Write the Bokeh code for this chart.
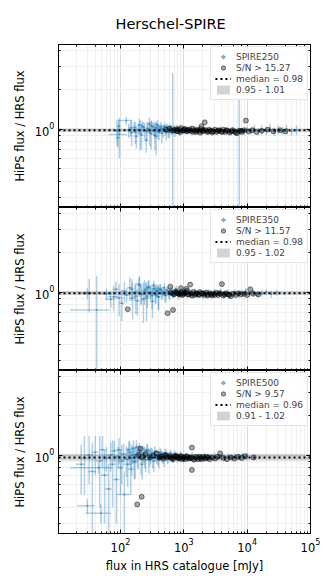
import numpy as np
from bokeh.plotting import figure
from bokeh.layouts import column
from bokeh.models import (LogAxis, FixedTicker, Legend, LegendItem,
                          Range1d, ColumnDataSource, Title)
from bokeh.embed import file_html
from bokeh.resources import INLINE

# ---------------- data ----------------
bands = ["SPIRE250", "SPIRE350", "SPIRE500"]
sn_threshold = [15.27, 11.57, 9.57]
median_ratio = [0.98, 0.98, 0.96]
range_lo = [0.95, 0.95, 0.91]
range_hi = [1.01, 1.02, 1.02]

flux250 = [96,123,88,91,94,135,150,165,178,190,205,220,240,255,270,290,310,330,350,370,390,410,430,450,480,510,540,570,600,667,640,700,750,800,860,920,1000,1100,1200,1350,1500,1700,1900,2100,2400,2700,3000,3400,3800,4300,4800,5400,6000,6800,7480,8200,9000,10000,11500,13000,15000,17000,20000,23000,27000,31000,36000,42000,50000,60000,
           145,172,198,215,232,262,285,305,325,345,365,385,405,440,470,500,530,560,590,620,680,720,780,850,950,1050,1150,1300,1600,2000]
ratio250 = [0.91,1.16,0.97,0.86,1.05,0.98,0.94,1.03,0.88,0.99,0.93,1.05,0.97,0.82,1.01,0.94,1.06,0.97,0.90,1.02,0.96,0.99,1.04,0.93,1.00,0.97,1.03,0.95,1.01,0.99,0.96,1.02,0.97,1.00,0.95,0.99,1.02,0.97,0.99,0.96,1.01,0.98,0.95,1.00,0.97,0.99,0.96,0.98,1.00,0.96,0.98,0.95,0.99,0.97,0.97,0.98,0.96,0.99,0.97,1.01,0.96,0.99,0.97,1.02,0.96,0.99,0.97,1.00,0.96,0.98,
            1.02,0.95,1.08,0.90,1.03,0.97,1.10,0.92,1.04,0.98,0.88,1.07,0.95,1.01,0.97,1.05,0.94,1.00,0.96,1.03,0.98,0.95,1.02,0.97,1.00,0.96,0.99,1.01,0.97,0.99]
fluxerr250 = [31,30,6,7,6,10,11,12,13,14,15,16,17,18,19,20,21,22,23,24,25,26,27,28,29,30,31,32,33,36,34,36,38,40,42,44,46,48,50,55,60,65,70,75,80,90,100,110,120,140,150,170,190,210,230,260,280,310,350,400,460,520,600,700,820,950,1100,1300,1500,1800,
              10,12,14,15,16,18,19,20,21,22,23,24,25,27,28,30,31,32,33,34,36,37,39,42,46,48,50,55,65,75]
ratioerr250 = [0.31,0.08,0.22,0.14,0.12,0.12,0.20,0.10,0.17,0.09,0.24,0.10,0.14,0.16,0.09,0.20,0.11,0.08,0.21,0.10,0.13,0.07,0.09,0.15,0.06,0.08,0.07,0.10,0.06,1.69,0.06,0.05,0.06,0.05,0.07,0.05,0.05,0.04,0.05,0.04,0.05,0.04,0.06,0.04,0.05,0.04,0.05,0.04,0.05,0.04,0.05,0.04,0.05,0.04,0.75,0.05,0.06,0.05,0.06,0.07,0.06,0.08,0.07,0.08,0.07,0.08,0.07,0.08,0.07,0.08,
               0.15,0.18,0.12,0.20,0.10,0.16,0.12,0.22,0.09,0.14,0.25,0.10,0.13,0.08,0.11,0.07,0.12,0.08,0.10,0.06,0.07,0.08,0.06,0.06,0.05,0.05,0.05,0.04,0.05,0.04]
snflux250 = [520,600,650,700,760,800,850,900,950,1000,1060,1120,1200,1280,1350,1450,1550,1650,1750,1850,1900,2000,2140,2200,2350,2500,2700,2900,3100,3300,3600,3900,4200,4500,4900,5300,5800,6300,6900,7500,8200,9000,9560,10500,12000,14000,17000,21000,26000,33000,40000,
             780,880,1030,1150,1380,1600,1800,2050,2450,2800,3450,4000,4700,5600,6600,8000]
snratio250 = [0.99,1.01,0.97,0.98,1.00,0.96,0.99,1.02,0.97,0.98,1.00,0.96,0.99,0.97,1.01,0.98,0.95,0.99,0.97,1.00,1.05,0.96,1.125,0.98,0.95,0.99,0.97,0.96,0.99,0.95,0.98,0.96,0.99,0.95,0.97,0.94,0.98,0.96,0.93,0.97,0.95,0.98,1.16,0.96,0.98,0.95,0.97,0.99,0.96,0.98,0.96,
              0.97,0.95,0.99,0.97,0.95,0.97,0.94,0.98,0.96,0.94,0.97,0.95,0.98,0.96,0.94,0.97]

flux350 = [42,32,30,60,70,78,85,95,105,115,125,140,155,170,185,200,215,230,250,265,280,300,320,340,360,380,400,430,460,490,520,560,600,650,700,760,820,890,960,1050,1150,1250,1380,1500,1650,1800,2000,2200,2450,2700,3000,3400,3800,4300,4900,5600,6400,7300,8300,9500,11000,12500,14500,17000,20000,24000,29000,
           150,175,195,210,240,258,275,295,315,335,355,375,395,420,445,475,505,540,580,620,670,730,800,870,940,1020,1120,1300,1600,2100]
ratio350 = [0.73,0.98,0.98,0.97,0.88,0.92,1.05,0.90,0.82,1.02,0.95,1.08,0.90,1.00,0.86,1.12,0.96,0.88,1.05,0.93,1.10,0.98,0.85,1.06,0.95,1.02,0.92,1.04,0.97,1.08,0.94,1.01,0.96,1.03,0.98,1.05,0.95,1.00,0.97,1.02,0.96,0.99,0.95,1.01,0.97,0.99,0.95,0.98,1.00,0.96,0.99,0.97,1.01,0.96,0.99,0.97,1.00,0.96,0.99,1.02,0.97,0.99,0.96,0.98,1.00,0.97,0.99,
            1.05,0.93,1.15,0.97,1.02,0.90,1.08,1.00,0.94,1.12,0.97,1.03,0.92,1.06,0.98,1.01,0.95,1.04,0.97,1.00,0.96,1.02,0.98,0.95,1.01,0.97,0.99,0.96,0.98,0.97]
fluxerr350 = [26,4,6,10,12,15,10,12,10,12,14,14,15,16,17,18,19,20,21,22,23,24,25,26,27,28,29,30,31,32,33,34,35,36,38,40,42,44,46,48,52,56,60,65,70,75,80,90,100,110,120,130,150,170,190,210,240,270,300,340,390,440,500,580,680,800,950,
              14,16,17,18,20,21,22,23,24,25,26,27,28,29,30,31,32,33,34,35,36,38,40,42,44,46,50,56,65,80]
ratioerr350 = [0.60,0.28,0.10,0.10,0.12,0.20,0.15,0.25,0.22,0.18,0.12,0.22,0.28,0.14,0.20,0.20,0.15,0.30,0.12,0.18,0.13,0.10,0.22,0.11,0.14,0.09,0.20,0.10,0.08,0.09,0.12,0.07,0.09,0.07,0.06,0.07,0.08,0.06,0.07,0.06,0.05,0.06,0.05,0.06,0.05,0.05,0.06,0.05,0.05,0.05,0.06,0.05,0.05,0.05,0.06,0.05,0.05,0.06,0.05,0.06,0.05,0.06,0.05,0.06,0.05,0.06,0.05,
               0.20,0.25,0.15,0.18,0.22,0.30,0.14,0.12,0.20,0.10,0.15,0.12,0.18,0.09,0.11,0.08,0.10,0.07,0.08,0.06,0.07,0.06,0.06,0.05,0.06,0.05,0.05,0.05,0.05,0.05]
snflux350 = [130,555,675,612,1260,4000,11200,620,680,740,800,860,900,920,980,1050,1100,1120,1200,1300,1400,1500,1600,1700,1800,1950,2100,2250,2400,2600,2800,3000,3250,3500,3800,4200,4600,5000,5500,6000,6600,7300,8000,9000,10000,12500,15000,
             700,770,830,950,1020,1150,1350,1550,1750,2000,2350,2700,3100,3650,4400,5200]
snratio350 = [0.74,0.69,0.73,1.10,1.14,1.15,1.05,0.99,0.97,1.01,0.98,0.96,1.07,1.00,0.97,0.99,1.06,1.02,0.96,0.98,1.00,0.95,0.98,0.96,1.00,0.97,0.95,0.99,0.96,0.98,0.94,0.97,0.99,0.95,0.97,0.94,0.98,0.96,0.93,0.97,0.95,0.98,0.96,0.97,0.95,0.97,0.96,
              0.96,0.99,0.97,0.95,0.98,0.96,0.94,0.97,0.95,0.98,0.94,0.96,0.95,0.98,0.96,0.95]

flux500 = [45,24,27,30,32,36,40,49,47,52,56,60,65,70,75,80,86,92,100,115,124,135,145,155,165,178,190,205,220,235,250,270,290,310,335,360,390,420,450,490,530,570,620,680,740,810,890,980,1080,1200,1350,1500,1700,1900,2150,2400,2700,3050,3450,3900,4400,5000,5700,6500,7400,8500,9800,
           95,105,112,130,140,150,160,170,185,198,212,228,242,260,280,300,322,348,375,405,435,470,510,550,600,650,710,780,860,950]
ratio500 = [0.80,0.85,0.95,0.41,1.00,0.75,1.05,0.36,0.90,1.10,0.70,0.95,0.55,1.00,0.85,1.08,0.65,0.97,0.80,0.50,0.93,1.10,0.78,1.00,0.88,1.15,0.95,1.05,0.85,1.00,0.92,1.08,0.96,1.03,0.90,1.00,0.95,1.05,0.97,0.93,1.01,0.96,1.03,0.95,0.99,0.96,1.01,0.95,0.98,0.96,1.00,0.95,0.98,0.96,0.99,0.95,0.97,0.99,0.96,0.98,0.95,0.98,0.96,0.99,0.97,1.00,0.98,
            1.10,0.90,1.02,0.85,1.05,0.95,1.12,0.90,1.00,1.08,0.93,1.03,0.97,1.10,0.92,1.00,0.95,1.06,0.98,0.93,1.02,0.96,1.04,0.95,0.99,0.97,1.02,0.95,0.98,0.96]
fluxerr500 = [29,4,5,9,4,5,5,21,6,6,7,7,8,8,9,9,10,10,11,28,13,14,15,15,16,17,18,19,20,21,22,23,24,25,26,27,28,29,30,32,34,36,38,40,42,45,48,52,56,60,65,70,80,90,100,110,120,140,150,170,190,220,250,280,320,360,400,
              10,11,12,14,14,15,16,17,18,19,20,21,22,23,24,25,26,27,28,29,30,31,33,35,37,39,41,43,46,50]
ratioerr500 = [0.08,0.35,0.45,0.05,0.40,0.50,0.35,0.06,0.50,0.30,0.40,0.20,0.30,0.25,0.45,0.20,0.35,0.18,0.30,0.25,0.25,0.18,0.28,0.15,0.22,0.15,0.18,0.12,0.20,0.14,0.18,0.12,0.14,0.10,0.16,0.10,0.12,0.09,0.10,0.12,0.08,0.09,0.07,0.08,0.07,0.07,0.06,0.07,0.06,0.06,0.06,0.06,0.05,0.06,0.05,0.05,0.05,0.06,0.05,0.05,0.05,0.05,0.05,0.05,0.05,0.05,0.06,
               0.25,0.30,0.20,0.28,0.22,0.25,0.18,0.25,0.20,0.15,0.22,0.15,0.18,0.12,0.20,0.14,0.16,0.10,0.12,0.14,0.09,0.10,0.08,0.10,0.07,0.08,0.06,0.07,0.06,0.06]
snflux500 = [183,216,1340,1340,206,12700,3760,190,220,250,290,330,370,410,450,500,550,600,650,700,760,820,880,950,1020,1100,1200,1300,1450,1600,1750,1900,2100,2300,2550,2800,3100,3400,4200,4800,5500,6300,7200,8200,9300,
             420,480,530,620,680,730,790,850,920,990,1060,1150,1250,1380,1520,1680,1850,2000,2200,2450]
snratio500 = [0.42,0.48,0.77,1.14,1.12,0.96,1.03,1.00,0.97,1.02,0.96,0.99,1.03,0.95,0.98,1.00,0.96,0.98,0.94,0.97,0.99,0.95,0.97,0.93,0.96,0.98,0.94,0.96,0.92,0.95,0.97,0.93,0.95,0.97,0.93,0.96,0.94,0.97,0.95,0.93,0.96,0.94,0.97,0.95,0.98,
              0.97,0.94,0.99,0.96,0.93,0.98,0.96,0.94,0.98,0.95,0.93,0.97,0.95,0.94,0.97,0.93,0.95,0.97,0.94,0.96]

y_tick_major = [1.0]
y_tick_minor = [0.3, 0.4, 0.5, 0.6, 0.7, 0.8, 0.9, 2, 3, 4]

# ---------------- style ----------------
FONT = "DejaVu Sans"
BLUE = "#1f77b4"
X_MIN, X_MAX = 10.5, 1.0e5
Y_MIN, Y_MAX = 0.252, 4.42


def style_axis(ax, show_labels):
    ax.axis_line_color = "black"
    ax.major_tick_in = 4
    ax.major_tick_out = 0
    ax.minor_tick_in = 2
    ax.minor_tick_out = 0
    ax.major_tick_line_color = "black"
    ax.minor_tick_line_color = "black"
    ax.major_label_text_font = FONT
    ax.major_label_text_color = "black"
    if show_labels:
        ax.major_label_text_font_size = "11.5px"
        ax.major_label_standoff = 4
    else:
        ax.major_label_text_font_size = "1px"
        ax.major_label_text_alpha = 0
        ax.major_label_standoff = 0
    ax.axis_label_text_font = FONT
    ax.axis_label_text_font_size = "11.5px"
    ax.axis_label_text_font_style = "normal"
    ax.axis_label_text_color = "black"


def make_panel(i, flux, ratio, ferr, rerr, snf, snr, top, bottom):
    p = figure(x_axis_type="log", y_axis_type="log",
               x_range=Range1d(X_MIN, X_MAX), y_range=Range1d(Y_MIN, Y_MAX),
               frame_width=252, frame_height=163,
               output_backend="svg", toolbar_location=None,
               min_border_left=58, min_border_right=10,
               min_border_top=43 if top else 0,
               min_border_bottom=0)
    p.outline_line_color = "black"

    p.yaxis.ticker = FixedTicker(ticks=y_tick_major, minor_ticks=y_tick_minor)
    style_axis(p.yaxis[0], True)
    p.yaxis.axis_label = "HiPS flux / HRS flux"
    p.yaxis.axis_label_standoff = 5

    style_axis(p.xaxis[0], bottom)
    if bottom:
        p.xaxis.axis_label = "flux in HRS catalogue [mJy]"
        p.xaxis.axis_label_standoff = 4

    ax_top = LogAxis()
    style_axis(ax_top, False)
    p.add_layout(ax_top, "above")
    ax_right = LogAxis(ticker=FixedTicker(ticks=y_tick_major, minor_ticks=y_tick_minor))
    style_axis(ax_right, False)
    p.add_layout(ax_right, "right")

    p.xgrid.grid_line_color = "#dcdcdc"
    p.xgrid.minor_grid_line_color = "#efefef"
    p.ygrid.ticker = FixedTicker(ticks=y_tick_major, minor_ticks=y_tick_minor)
    p.ygrid.grid_line_color = "#dcdcdc"
    p.ygrid.minor_grid_line_color = "#efefef"

    flux = np.array(flux, float)
    ratio = np.array(ratio, float)
    ferr = np.array(ferr, float)
    rerr = np.array(rerr, float)
    src = ColumnDataSource(dict(
        x=flux, y=ratio, x0=flux - ferr, x1=flux + ferr,
        y0=np.clip(ratio - rerr, 0.01, None), y1=ratio + rerr))

    band_r = p.quad(left=X_MIN, right=X_MAX, bottom=range_lo[i], top=range_hi[i],
                    fill_color="grey", fill_alpha=0.35, line_color=None)
    p.segment(x0="x0", y0="y", x1="x1", y1="y", source=src,
              line_color=BLUE, line_alpha=0.35, line_width=1.5)
    p.segment(x0="x", y0="y0", x1="x", y1="y1", source=src,
              line_color=BLUE, line_alpha=0.35, line_width=1.5)
    cross_r = p.scatter(x="x", y="y", source=src, marker="cross", size=1,
                        line_color=BLUE, line_alpha=0.6, line_width=1.8)
    sn_r = p.scatter(x=snf, y=snr, size=5, marker="circle",
                     fill_color="black", fill_alpha=0.35,
                     line_color="black", line_alpha=0.45)
    med_r = p.line(x=[X_MIN, X_MAX], y=[median_ratio[i], median_ratio[i]],
                   line_color="black", line_width=2, line_dash="2 3")

    legend = Legend(items=[
        LegendItem(label=bands[i], renderers=[cross_r]),
        LegendItem(label="S/N > %.2f" % sn_threshold[i], renderers=[sn_r]),
        LegendItem(label="median = %.2f" % median_ratio[i], renderers=[med_r]),
        LegendItem(label="%.2f - %.2f" % (range_lo[i], range_hi[i]), renderers=[band_r]),
    ], location="top_right")
    legend.label_text_font = FONT
    legend.label_text_font_size = "9px"
    legend.label_height = 11
    legend.glyph_height = 11
    legend.glyph_width = 16
    legend.spacing = 0
    legend.padding = 4
    legend.margin = 2
    legend.label_standoff = 5
    legend.border_line_color = "#cccccc"
    legend.background_fill_alpha = 0.85
    p.add_layout(legend)

    if top:
        p.title = Title(text="Herschel-SPIRE", align="left", offset=57, standoff=26,
                        text_font=FONT, text_font_size="14.5px",
                        text_font_style="normal", text_color="black")
    return p


p1 = make_panel(0, flux250, ratio250, fluxerr250, ratioerr250, snflux250, snratio250, True, False)
p2 = make_panel(1, flux350, ratio350, fluxerr350, ratioerr350, snflux350, snratio350, False, False)
p3 = make_panel(2, flux500, ratio500, fluxerr500, ratioerr500, snflux500, snratio500, False, True)

layout = column(p1, p2, p3, spacing=0)
open("out.html", "w").write(file_html(layout, INLINE))
